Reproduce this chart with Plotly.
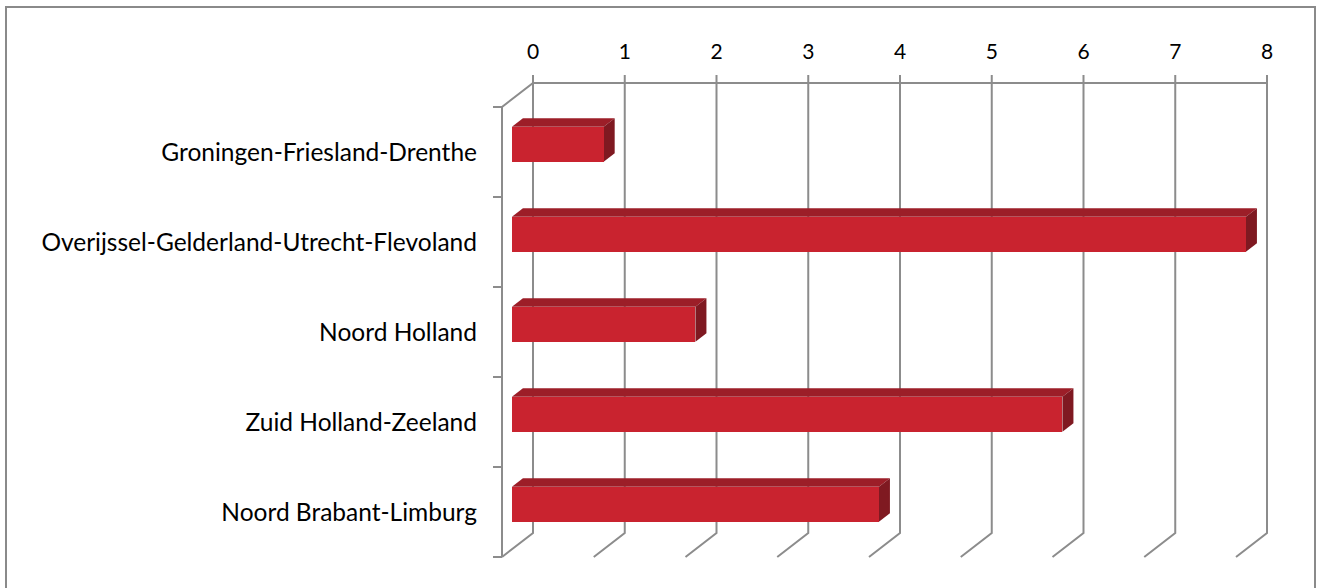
import plotly.graph_objects as go

# ---- data ----
categories = ["Groningen-Friesland-Drenthe",
              "Overijssel-Gelderland-Utrecht-Flevoland",
              "Noord Holland",
              "Zuid Holland-Zeeland",
              "Noord Brabant-Limburg"]
values = [1, 8, 2, 6, 4]
x_ticks = [0, 1, 2, 3, 4, 5, 6, 7, 8]

# ---- layout geometry (pixels) ----
W, H = 1318, 588
PL, PR, PT, PB = 480, 1300, 66, 575      # plot area
X0F, UX = 502, 91.75                       # front-plane value 0 px, px per unit
Y0F, UY = 152, 90                          # front-plane category 0 centre px, px per category
DEPTH_X, DEPTH_Y = 31, 24                  # oblique depth offset (px) front -> back
DXU, DYU = DEPTH_X / UX, DEPTH_Y / UY
F1, F2 = 0.32, 0.675                        # bar front / back depth fraction
HB = 17.5 / UY                              # bar half thickness in category units

xr = [(PL - X0F) / UX, (PR - X0F) / UX]
yr = [(PB - Y0F) / UY, (PT - Y0F) / UY]

GRID = "#8c8c8c"
FRONT, TOP, SIDE = "#c9232f", "#9c1e28", "#7f1921"
FONT = "Lato"


def P(v, c, d):
    """project (value, category, depth) -> front-plane data coords"""
    return v + d * DXU, c - d * DYU


def path(pts):
    return "M " + " L ".join(f"{x:.5f},{y:.5f}" for x, y in pts) + " Z"


def line_path(pts):
    return "M " + " L ".join(f"{x:.5f},{y:.5f}" for x, y in pts)


shapes = []
n = len(categories)
top_b, bot_b = -0.5, n - 0.5
tick_ext = 8 / UY

# gridlines (back wall verticals + floor diagonals)
for v in x_ticks:
    bx_t, by_t = P(v, top_b, 1)
    bx_b, by_b = P(v, bot_b, 1)
    fx, fy = P(v, bot_b, 0)
    shapes.append(dict(type="path", xref="x", yref="y", layer="below",
                       path=line_path([(bx_t, by_t - tick_ext), (bx_b, by_b), (fx, fy)]),
                       line=dict(color=GRID, width=2)))
# back wall top edge, left wall top edge, front-left axis
a = P(x_ticks[0], top_b, 1)
b = P(x_ticks[-1], top_b, 1)
shapes.append(dict(type="path", xref="x", yref="y", layer="below",
                   path=line_path([b, a, P(0, top_b, 0), P(0, bot_b, 0)]),
                   line=dict(color=GRID, width=2)))
# category boundary ticks on the front-left axis
for k in range(n + 1):
    bb = k - 0.5
    shapes.append(dict(type="line", xref="x", yref="y", layer="below",
                       x0=-9 / UX, x1=0, y0=bb, y1=bb,
                       line=dict(color=GRID, width=2)))

# bar top and side faces
for i, v in enumerate(values):
    top = [P(0, i - HB, F1), P(v, i - HB, F1), P(v, i - HB, F2), P(0, i - HB, F2)]
    side = [P(v, i - HB, F1), P(v, i + HB, F1), P(v, i + HB, F2), P(v, i - HB, F2)]
    shapes.append(dict(type="path", xref="x", yref="y", layer="below",
                       path=path(top), fillcolor=TOP, line=dict(width=0)))
    shapes.append(dict(type="path", xref="x", yref="y", layer="below",
                       path=path(side), fillcolor=SIDE, line=dict(width=0)))

# outer border (paper coords)
pw, ph = PR - PL, PB - PT
def px2paper(x, y):
    return (x - PL) / pw, 1 - (y - PT) / ph
bx0, by0 = px2paper(6, 7)
bx1, by1 = px2paper(1315, 600)
shapes.append(dict(type="rect", xref="paper", yref="paper", layer="below",
                   x0=bx0, y0=by1, x1=bx1, y1=by0,
                   line=dict(color="#8a8a8a", width=2), fillcolor="rgba(0,0,0,0)"))

fig = go.Figure()
fig.add_trace(go.Bar(
    orientation="h",
    y=[i - F1 * DYU for i in range(n)],
    x=values,
    base=[F1 * DXU] * n,
    width=2 * HB,
    marker=dict(color=FRONT, line=dict(width=0)),
    hoverinfo="x",
    showlegend=False,
))
# anchor trace for the top (back-plane) value axis
fig.add_trace(go.Scatter(x=x_ticks, y=[0] * len(x_ticks), xaxis="x2", mode="markers",
                         marker=dict(opacity=0), hoverinfo="skip", showlegend=False))

fig.update_layout(
    width=W, height=H,
    margin=dict(l=PL, r=W - PR, t=PT, b=H - PB, pad=0),
    paper_bgcolor="white", plot_bgcolor="white",
    shapes=shapes,
    font=dict(family=FONT, color="#000000"),
    xaxis=dict(range=xr, visible=False, fixedrange=True),
    xaxis2=dict(range=[xr[0] - DXU, xr[1] - DXU], overlaying="x", side="top",
                tickvals=x_ticks, ticktext=[str(t) for t in x_ticks],
                showgrid=False, zeroline=False, showline=False, ticks="",
                ticklabelstandoff=2,
                tickfont=dict(size=21, family=FONT)),
    yaxis=dict(range=yr, tickvals=list(range(n)), ticktext=categories,
               showgrid=False, zeroline=False, showline=False, ticks="",
               ticklabelstandoff=2,
               tickfont=dict(size=24.5, family=FONT)),
    bargap=0,
)

fig.write_html("out.html")
